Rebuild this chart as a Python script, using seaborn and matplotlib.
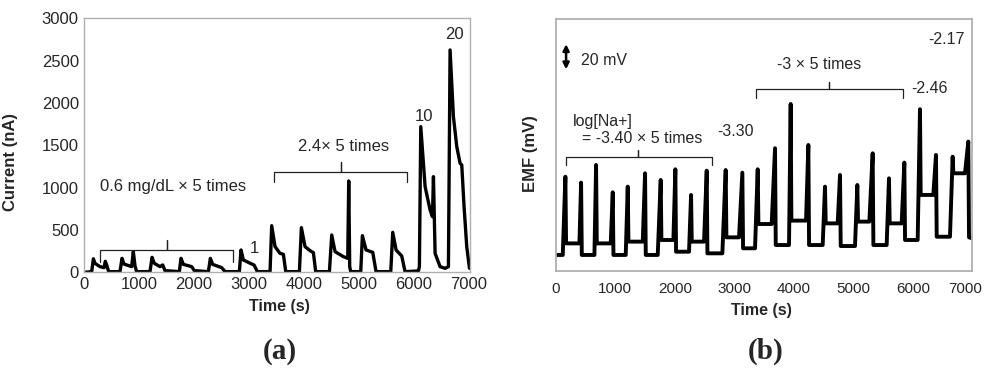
import matplotlib
matplotlib.use("Agg")
import matplotlib.pyplot as plt
from matplotlib.transforms import ScaledTranslation
import seaborn as sns
import pandas as pd

# ---------------- data: panel (a) current trace waypoints ----------------
time_a = [0, 134, 165, 194, 286, 359, 383, 407, 444,
          650, 687, 723, 863, 893, 924, 954,
          1197, 1234, 1276, 1380, 1428, 1471,
          1732, 1762, 1805, 1957, 2005,
          2261, 2297, 2340, 2504, 2565,
          2826, 2856, 2899, 3051, 3093, 3154,
          3385, 3415, 3476, 3567, 3628, 3671,
          3920, 3956, 4023, 4114, 4175, 4217,
          4467, 4509, 4570, 4722, 4801, 4819, 4837, 4855,
          5038, 5068, 5135, 5257, 5317,
          5585, 5621, 5682, 5785, 5846,
          6089, 6107, 6132, 6211, 6302, 6345, 6363, 6393, 6484, 6575,
          6636, 6666, 6727, 6788, 6849, 6879, 6921, 6970, 7020]
current_a = [0, 8, 160, 106, 67, 55, 130, 87, 8,
             8, 165, 98, 67, 244, 75, 8,
             8, 177, 106, 67, 87, 20,
             8, 165, 94, 67, 20,
             8, 165, 94, 55, 8,
             8, 264, 146, 98, 87, 8,
             8, 551, 303, 224, 213, 8,
             8, 528, 303, 256, 232, 8,
             8, 441, 244, 185, 165, 1079, 67, 8,
             8, 433, 264, 236, 8,
             8, 472, 264, 193, 8,
             16, 67, 1720, 1012, 736, 657, 1130, 224, 67, 47,
             67, 2626, 1839, 1484, 1287, 1268, 776, 303, 47]

# ---------------- data: panel (b) EMF spikes ----------------
start_emf_b = 12.5
rise_t_b = [118, 398, 650, 924, 1176, 1462, 1714, 1977, 2240, 2492,
            2800, 3080, 3349, 3629, 3920, 4206, 4486, 4738, 5029, 5270,
            5561, 5813, 6082, 6345, 6625, 6877]
peak_t_b = [162, 426, 678, 958, 1210, 1501, 1764, 2010, 2274, 2537,
            2856, 3136, 3394, 3685, 3948, 4245, 4525, 4777, 5068, 5326,
            5600, 5858, 6121, 6390, 6670, 6933]
peak_emf_b = [74.7, 70.0, 84.0, 62.3, 66.8, 77.4, 72.1, 80.6, 60.2, 79.5,
              80.0, 77.9, 80.6, 97.3, 132.5, 99.9, 66.8, 76.1, 68.1, 93.3,
              73.4, 85.9, 128.3, 92.0, 90.6, 102.6]
after_emf_b = [21.7, 12.5, 21.7, 12.5, 23.1, 12.5, 24.4, 15.1, 23.1, 13.8,
               26.5, 17.8, 37.1, 20.4, 39.8, 20.4, 37.6, 19.6, 39.0, 20.4,
               37.6, 24.4, 60.2, 27.0, 77.4, 26.5]
end_t_b, end_emf_b = 7000, 25.7

# ---------------- annotation texts ----------------
labels_a = ["0.6 mg/dL \u00d7 5 times", "1", "2.4\u00d7 5 times", "10", "20"]
labels_b = ["log[Na+]", "= -3.40 \u00d7 5 times", "-3.30", "-3 \u00d7 5 times",
            "-2.46", "-2.17", "20 mV"]

# ---------------- build traces ----------------
df_a = pd.DataFrame({"t": time_a, "v": current_a})

tb, vb = [0], [start_emf_b]
level = start_emf_b
for r, p, pv, av in zip(rise_t_b, peak_t_b, peak_emf_b, after_emf_b):
    tb += [r, p, p + 12]
    vb += [level, pv, av]
    level = av
tb.append(end_t_b)
vb.append(end_emf_b)
df_b = pd.DataFrame({"t": tb, "v": vb})

# ---------------- figure ----------------
sns.set_theme(style="white")
plt.rcParams["font.family"] = ["Liberation Sans", "DejaVu Sans"]

fig = plt.figure(figsize=(9.85, 3.69), dpi=100)
ax_a = fig.add_axes([0.0856, 0.262, 0.3916, 0.6884])
ax_b = fig.add_axes([0.5642, 0.2664, 0.4229, 0.6821])

spine_col = "#b0b0b0"

# panel a
sns.lineplot(data=df_a, x="t", y="v", sort=False, estimator=None,
             color="black", linewidth=2.4, ax=ax_a)
ax_a.set_xlim(0, 7030)
ax_a.set_ylim(0, 3000)
ax_a.set_xticks(range(0, 7001, 1000))
ax_a.set_yticks(range(0, 3001, 500))
for s in ax_a.spines.values():
    s.set_color(spine_col)
    s.set_linewidth(1.0)
ax_a.tick_params(axis="x", direction="out", length=3, color=spine_col,
                 labelsize=12, pad=0.5)
ax_a.tick_params(axis="y", length=0, labelsize=12, pad=4)
ax_a.set_xlabel("Time (s)", fontsize=11.5, fontweight="bold")
ax_a.set_ylabel("Current (nA)", fontsize=12, fontweight="bold")
ax_a.xaxis.set_label_coords(0.507, -0.105)
ax_a.yaxis.set_label_coords(-0.172, 0.434)

br_col = "#222222"
def bracket(ax, x0, x1, xm, y, yend, ytop):
    ax.plot([x0, x0, xm, xm, xm, x1, x1], [yend, y, y, ytop, y, y, yend],
            color=br_col, linewidth=0.9, solid_joinstyle="round")

bracket(ax_a, 286, 2716, 1500, 264, 126, 382)
bracket(ax_a, 3458, 5889, 4673, 1189, 1071, 1307)
fs_a = 12
ax_a.text(1625, 1010, labels_a[0], fontsize=fs_a, ha="center", va="center")
ax_a.text(3093, 283, labels_a[1], fontsize=fs_a, ha="center", va="center")
ax_a.text(4722, 1484, labels_a[2], fontsize=fs_a, ha="center", va="center")
ax_a.text(6193, 1839, labels_a[3], fontsize=fs_a, ha="center", va="center")
ax_a.text(6739, 2811, labels_a[4], fontsize=fs_a, ha="center", va="center")

# panel b
sns.lineplot(data=df_b, x="t", y="v", sort=False, estimator=None,
             color="black", linewidth=2.8, ax=ax_b)
ax_b.set_xlim(0, 7000)
ax_b.set_ylim(0, 200)
ax_b.set_xticks(range(0, 7001, 1000))
ax_b.set_yticks(range(20, 181, 20))
ax_b.set_yticklabels([])
for s in ax_b.spines.values():
    s.set_color(spine_col)
    s.set_linewidth(1.3)
ax_b.tick_params(axis="x", direction="in", length=3, color=spine_col,
                 labelsize=11, pad=8)
ax_b.tick_params(axis="y", direction="in", length=4, color=spine_col)
ax_b.set_xlabel("Time (s)", fontsize=11.5, fontweight="bold")
ax_b.set_ylabel("EMF (mV)", fontsize=12, fontweight="bold")
ax_b.xaxis.set_label_coords(0.495, -0.128)
ax_b.yaxis.set_label_coords(-0.042, 0.466)
fig.canvas.draw()
last = ax_b.get_xticklabels()[-1]
last.set_transform(last.get_transform() +
                   ScaledTranslation(-5 / 72, 0, fig.dpi_scale_trans))

bracket(ax_b, 174, 2621, 1389, 90.1, 84.0, 96.0)
bracket(ax_b, 3360, 5830, 4598, 144.2, 137.0, 150.3)
fs_b = 11.5
ax_b.text(286, 118.5, labels_b[0], fontsize=fs_b, ha="left", va="center")
ax_b.text(437, 104.7, labels_b[1], fontsize=fs_b, ha="left", va="center")
ax_b.text(3024, 110.5, labels_b[2], fontsize=fs_b, ha="center", va="center")
ax_b.text(4430, 164, labels_b[3], fontsize=fs_b, ha="center", va="center")
ax_b.text(6289, 145, labels_b[4], fontsize=fs_b, ha="center", va="center")
ax_b.text(6569, 183.4, labels_b[5], fontsize=fs_b, ha="center", va="center")
ax_b.text(420, 167, labels_b[6], fontsize=fs_b, ha="left", va="center")
ax_b.annotate("", xy=(174, 180), xytext=(174, 160),
              arrowprops=dict(arrowstyle="<|-|>", color="black", lw=1.8,
                              mutation_scale=9, shrinkA=0, shrinkB=0))

fig.text(0.284, 0.047, "(a)", fontsize=21, fontweight="bold",
         family=["Liberation Serif", "DejaVu Serif"], ha="center", va="center")
fig.text(0.777, 0.047, "(b)", fontsize=21, fontweight="bold",
         family=["Liberation Serif", "DejaVu Serif"], ha="center", va="center")

fig.savefig("out.png", dpi=100)
